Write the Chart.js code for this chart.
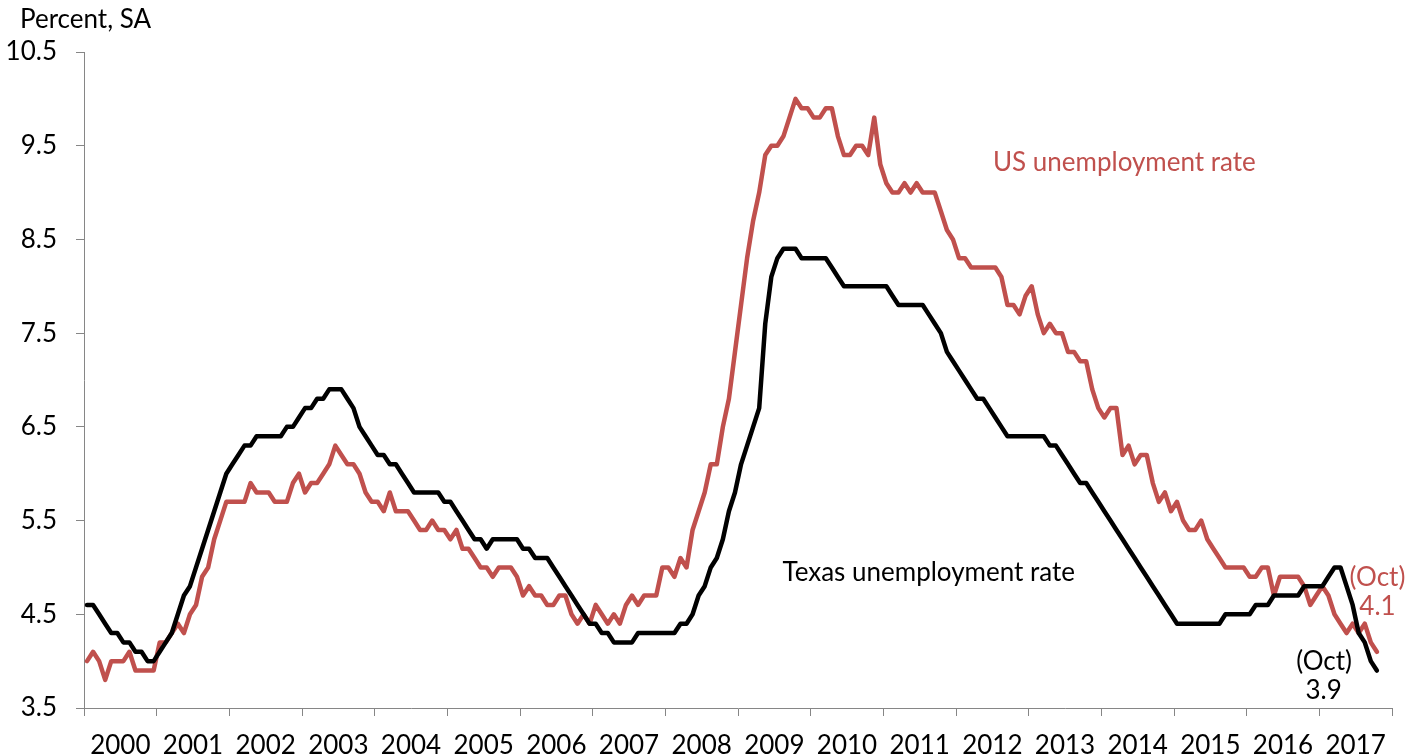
<!DOCTYPE html>
<html><head><meta charset="utf-8">
<script src="https://cdn.jsdelivr.net/npm/chart.js@4/dist/chart.umd.min.js"></script>
<style>html,body{margin:0;padding:0;background:#fff;}#wrap{width:1406px;height:756px;}</style>
</head><body><div id="wrap"><canvas id="c" width="1406" height="756"></canvas></div>
<script>
// Monthly data, Jan 2000 - Oct 2017 (percent, SA)
const years = ['2000','2001','2002','2003','2004','2005','2006','2007','2008','2009','2010','2011','2012','2013','2014','2015','2016','2017'];
const yTicks = [3.5,4.5,5.5,6.5,7.5,8.5,9.5,10.5];
const usRate = [
  4.0,4.1,4.0,3.8,4.0,4.0,4.0,4.1,3.9,3.9,3.9,3.9,
  4.2,4.2,4.3,4.4,4.3,4.5,4.6,4.9,5.0,5.3,5.5,5.7,
  5.7,5.7,5.7,5.9,5.8,5.8,5.8,5.7,5.7,5.7,5.9,6.0,
  5.8,5.9,5.9,6.0,6.1,6.3,6.2,6.1,6.1,6.0,5.8,5.7,
  5.7,5.6,5.8,5.6,5.6,5.6,5.5,5.4,5.4,5.5,5.4,5.4,
  5.3,5.4,5.2,5.2,5.1,5.0,5.0,4.9,5.0,5.0,5.0,4.9,
  4.7,4.8,4.7,4.7,4.6,4.6,4.7,4.7,4.5,4.4,4.5,4.4,
  4.6,4.5,4.4,4.5,4.4,4.6,4.7,4.6,4.7,4.7,4.7,5.0,
  5.0,4.9,5.1,5.0,5.4,5.6,5.8,6.1,6.1,6.5,6.8,7.3,
  7.8,8.3,8.7,9.0,9.4,9.5,9.5,9.6,9.8,10.0,9.9,9.9,
  9.8,9.8,9.9,9.9,9.6,9.4,9.4,9.5,9.5,9.4,9.8,9.3,
  9.1,9.0,9.0,9.1,9.0,9.1,9.0,9.0,9.0,8.8,8.6,8.5,
  8.3,8.3,8.2,8.2,8.2,8.2,8.2,8.1,7.8,7.8,7.7,7.9,
  8.0,7.7,7.5,7.6,7.5,7.5,7.3,7.3,7.2,7.2,6.9,6.7,
  6.6,6.7,6.7,6.2,6.3,6.1,6.2,6.2,5.9,5.7,5.8,5.6,
  5.7,5.5,5.4,5.4,5.5,5.3,5.2,5.1,5.0,5.0,5.0,5.0,
  4.9,4.9,5.0,5.0,4.7,4.9,4.9,4.9,4.9,4.8,4.6,4.7,
  4.8,4.7,4.5,4.4,4.3,4.4,4.3,4.4,4.2,4.1
];
const texasRate = [
  4.6,4.6,4.5,4.4,4.3,4.3,4.2,4.2,4.1,4.1,4.0,4.0,
  4.1,4.2,4.3,4.5,4.7,4.8,5.0,5.2,5.4,5.6,5.8,6.0,
  6.1,6.2,6.3,6.3,6.4,6.4,6.4,6.4,6.4,6.5,6.5,6.6,
  6.7,6.7,6.8,6.8,6.9,6.9,6.9,6.8,6.7,6.5,6.4,6.3,
  6.2,6.2,6.1,6.1,6.0,5.9,5.8,5.8,5.8,5.8,5.8,5.7,
  5.7,5.6,5.5,5.4,5.3,5.3,5.2,5.3,5.3,5.3,5.3,5.3,
  5.2,5.2,5.1,5.1,5.1,5.0,4.9,4.8,4.7,4.6,4.5,4.4,
  4.4,4.3,4.3,4.2,4.2,4.2,4.2,4.3,4.3,4.3,4.3,4.3,
  4.3,4.3,4.4,4.4,4.5,4.7,4.8,5.0,5.1,5.3,5.6,5.8,
  6.1,6.3,6.5,6.7,7.6,8.1,8.3,8.4,8.4,8.4,8.3,8.3,
  8.3,8.3,8.3,8.2,8.1,8.0,8.0,8.0,8.0,8.0,8.0,8.0,
  8.0,7.9,7.8,7.8,7.8,7.8,7.8,7.7,7.6,7.5,7.3,7.2,
  7.1,7.0,6.9,6.8,6.8,6.7,6.6,6.5,6.4,6.4,6.4,6.4,
  6.4,6.4,6.4,6.3,6.3,6.2,6.1,6.0,5.9,5.9,5.8,5.7,
  5.6,5.5,5.4,5.3,5.2,5.1,5.0,4.9,4.8,4.7,4.6,4.5,
  4.4,4.4,4.4,4.4,4.4,4.4,4.4,4.4,4.5,4.5,4.5,4.5,
  4.5,4.6,4.6,4.6,4.7,4.7,4.7,4.7,4.7,4.8,4.8,4.8,
  4.8,4.9,5.0,5.0,4.8,4.6,4.3,4.2,4.0,3.9
];

const RED = '#C0504D';
const AXIS = '#868686';
const FONT = 'Lato, "Open Sans", sans-serif';
const FS = 26;
const monthsSpan = years.length * 12;

const toPts = arr => arr.map((v, i) => ({ x: i + 0.5, y: v }));

const notes = [
  { text: 'US unemployment rate', x: 171.8, y: 9.32, color: RED },
  { text: 'Texas unemployment rate', x: 139.5, y: 4.94, color: '#000' },
  { text: '(Oct)', x: 213.6, y: 4.89, color: RED },
  { text: '4.1', x: 213.6, y: 4.58, color: RED },
  { text: '(Oct)', x: 204.8, y: 4.00, color: '#000' },
  { text: '3.9', x: 204.7, y: 3.69, color: '#000' }
];

const notePlugin = {
  id: 'notes',
  afterDatasetsDraw(chart) {
    const ctx = chart.ctx, xs = chart.scales.x, ys = chart.scales.y;
    ctx.save();
    ctx.font = FS + 'px ' + FONT;
    ctx.textAlign = 'center';
    ctx.textBaseline = 'middle';
    notes.forEach(n => {
      ctx.fillStyle = n.color;
      ctx.fillText(n.text, xs.getPixelForValue(n.x), ys.getPixelForValue(n.y));
    });
    ctx.textAlign = 'left';
    ctx.fillStyle = '#000';
    ctx.fillText('Percent, SA', chart.chartArea.left - 64, chart.chartArea.top - 32);
    ctx.restore();
  }
};

new Chart(document.getElementById('c'), {
  type: 'line',
  data: {
    datasets: [
      { label: 'Texas unemployment rate', data: toPts(texasRate), borderColor: '#000', borderWidth: 4.5,
        pointRadius: 0, tension: 0, borderJoinStyle: 'round', borderCapStyle: 'round', xAxisID: 'x' },
      { label: 'US unemployment rate', data: toPts(usRate), borderColor: RED, borderWidth: 4.5,
        pointRadius: 0, tension: 0, borderJoinStyle: 'round', borderCapStyle: 'round', xAxisID: 'x' }
    ]
  },
  options: {
    responsive: false,
    animation: false,
    devicePixelRatio: 1,
    layout: { padding: { top: 52, right: 14, left: 0, bottom: 0 } },
    plugins: { legend: { display: false }, tooltip: { enabled: false } },
    scales: {
      x: {
        type: 'linear', position: 'bottom', min: 0, max: monthsSpan, weight: 0,
        afterBuildTicks: s => { s.ticks = years.map((y, i) => ({ value: i * 12 })).concat([{ value: monthsSpan }]); },
        ticks: { display: true, callback: () => '', font: { size: 1 }, padding: 0 },
        grid: { display: true, drawOnChartArea: false, drawTicks: true, tickLength: 8, color: AXIS, lineWidth: 1 },
        border: { display: true, color: AXIS, width: 1 },
        afterFit: s => { s.height = 8; }
      },
      x2: {
        type: 'linear', position: 'bottom', min: 0, max: monthsSpan, weight: 1,
        afterBuildTicks: s => { s.ticks = years.map((y, i) => ({ value: i * 12 + 6 })); },
        ticks: { callback: (v) => years[Math.floor(v / 12)] || '', color: '#000', font: { family: FONT, size: FS }, padding: 14, maxRotation: 0, autoSkip: false },
        grid: { display: false, drawTicks: false },
        border: { display: false },
        afterFit: s => { s.height = 40; }
      },
      y: {
        type: 'linear', min: 3.5, max: 10.5,
        afterBuildTicks: s => { s.ticks = yTicks.map(v => ({ value: v })); },
        ticks: { callback: v => Number(v).toFixed(1), color: '#000', font: { family: FONT, size: FS }, padding: 19 },
        grid: { display: true, drawOnChartArea: false, drawTicks: true, tickLength: 8, color: AXIS, lineWidth: 1 },
        border: { display: true, color: AXIS, width: 1 },
        afterFit: s => { s.width = 84; }
      }
    }
  },
  plugins: [notePlugin]
});
</script></body></html>
